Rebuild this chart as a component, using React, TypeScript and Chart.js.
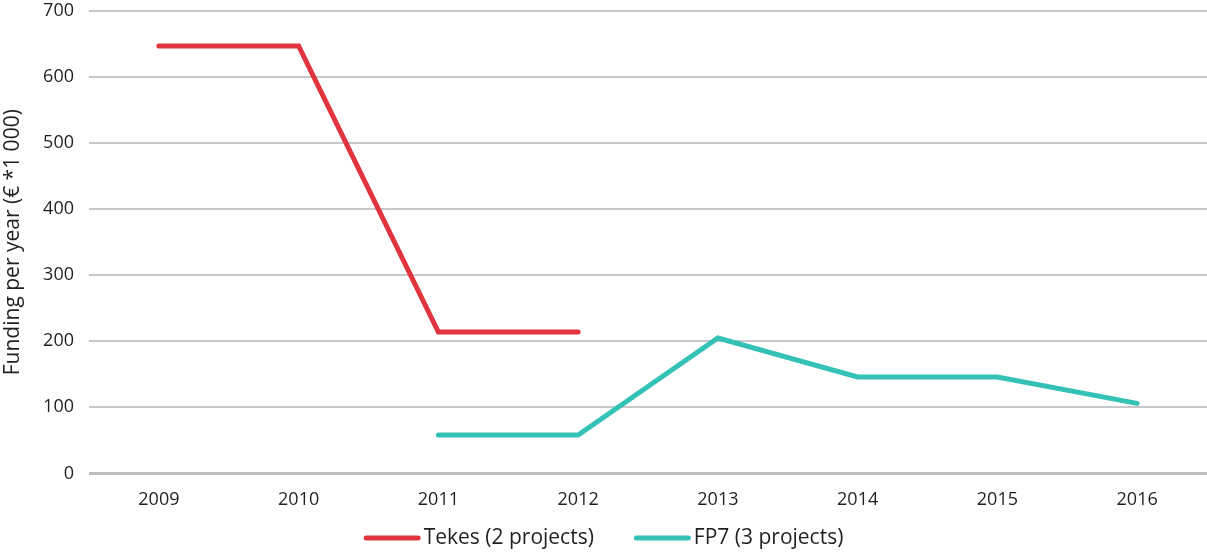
import React, { useEffect, useRef } from "react";
import { Chart, registerables } from "chart.js";

Chart.register(...registerables);

const years = ["2009", "2010", "2011", "2012", "2013", "2014", "2015", "2016"];
const tekes = [647, 647, 214, 214, null, null, null, null];
const fp7 = [null, null, 58, 58, 205, 146, 146, 106];
const seriesNames = ["Tekes (2 projects)", "FP7 (3 projects)"];
const seriesColors = ["#E0353F", "#34C1B6"];
const yTitle = "Funding per year (€ *1 000)";

const FONT = "'Open Sans', 'Noto Sans', sans-serif";
const TEXT = "#231f20";

const legendPlugin = {
  id: "customLegend",
  afterDraw(chart: any) {
    const ctx = chart.ctx;
    const font = `21px ${FONT}`;
    ctx.save();
    ctx.font = font;
    const lineW = 57;
    const gapText = 3;
    const gapItem = 40;
    const items = chart.data.datasets.map((d: any) => ({
      label: d.label,
      color: d.borderColor,
      tw: ctx.measureText(d.label).width,
    }));
    let total = 0;
    items.forEach((it: any, i: number) => {
      total += lineW + gapText + it.tw + (i < items.length - 1 ? gapItem : 0);
    });
    let x = chart.width / 2 - total / 2;
    const y = 538;
    items.forEach((it: any) => {
      ctx.strokeStyle = it.color;
      ctx.lineWidth = 5;
      ctx.lineCap = "round";
      ctx.beginPath();
      ctx.moveTo(x + 2.5, y);
      ctx.lineTo(x + lineW - 2.5, y);
      ctx.stroke();
      ctx.fillStyle = TEXT;
      ctx.textBaseline = "middle";
      ctx.textAlign = "left";
      ctx.fillText(it.label, x + lineW + gapText, y);
      x += lineW + gapText + it.tw + gapItem;
    });
    ctx.restore();
  },
};

export default function App() {
  const ref = useRef<HTMLCanvasElement | null>(null);
  useEffect(() => {
    if (!ref.current) return;
    const chart = new Chart(ref.current, {
      type: "line",
      data: {
        labels: years,
        datasets: [
          {
            label: seriesNames[0],
            data: tekes,
            borderColor: seriesColors[0],
            backgroundColor: seriesColors[0],
            borderWidth: 5,
            pointRadius: 0,
            borderCapStyle: "round",
            borderJoinStyle: "miter",
            tension: 0,
          },
          {
            label: seriesNames[1],
            data: fp7,
            borderColor: seriesColors[1],
            backgroundColor: seriesColors[1],
            borderWidth: 5,
            pointRadius: 0,
            borderCapStyle: "round",
            borderJoinStyle: "miter",
            tension: 0,
          },
        ],
      },
      plugins: [legendPlugin],
      options: {
        animation: false,
        responsive: false,
        maintainAspectRatio: false,
        layout: { padding: { top: 11, right: 0, left: 0, bottom: 30 } },
        plugins: {
          tooltip: { enabled: false },
          legend: { display: false },
        },
        scales: {
          x: {
            offset: true,
            grid: { display: false, drawTicks: false },
            border: { display: false },
            ticks: { color: TEXT, font: { family: FONT, size: 18 }, padding: 16 },
            afterFit: (s: any) => {
              s.paddingLeft = 0;
              s.paddingRight = 0;
            },
          },
          y: {
            min: 0,
            max: 700,
            afterFit: (s: any) => {
              s.width = 89;
              s.paddingTop = 0;
              s.paddingBottom = 0;
            },
            ticks: {
              stepSize: 100,
              color: TEXT,
              font: { family: FONT, size: 18 },
              padding: 15,
            },
            grid: {
              drawTicks: false,
              color: (ctx: any) => (ctx.tick && ctx.tick.value === 0 ? "#BDBCC0" : "#C8C8CA"),
              lineWidth: (ctx: any) => (ctx.tick && ctx.tick.value === 0 ? 3 : 2),
            },
            border: { display: false },
            title: {
              display: true,
              text: yTitle,
              color: TEXT,
              font: { family: FONT, size: 21 },
              padding: { top: 0, bottom: 0 },
            },
          },
        },
      },
    });
    return () => chart.destroy();
  }, []);
  return (
    <div style={{ position: "fixed", left: 0, top: 0, width: 1207, height: 557, background: "#fff" }}>
      <canvas ref={ref} width={1207} height={557} style={{ display: "block" }} />
    </div>
  );
}
